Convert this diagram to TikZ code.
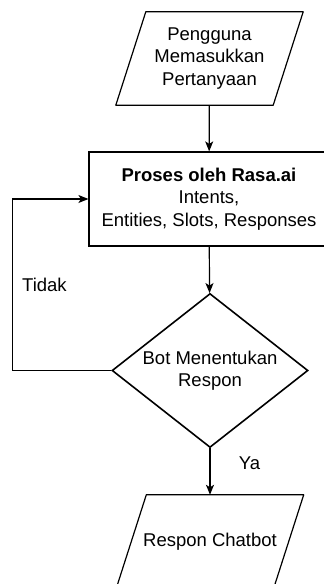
\documentclass[tikz,border=0pt]{standalone}
\usepackage{fontspec}
\setmainfont{Liberation Sans}
\usetikzlibrary{shapes.geometric,arrows.meta}
\begin{document}
\begin{tikzpicture}[x=1pt,y=-1pt,
  font=\fontsize{18.5}{22.5}\selectfont,
  every node/.style={align=center},
  io/.style={rectangle,minimum width=187pt,minimum height=93pt,inner sep=0pt},
  proc/.style={draw,line width=1.2pt,rectangle,minimum width=240pt,minimum height=94pt,inner sep=0pt},
  decide/.style={draw,line width=1.6pt,diamond,aspect=1.27,minimum width=196pt,minimum height=154pt,inner sep=0pt},
  flow/.style={line width=1.2pt,-{Stealth[length=10pt,width=8pt,inset=2.5pt]}}]
\clip (0,0) rectangle (324,584);
% nodes
\node[io] (input) at (209.5,58.5) {Pengguna\\Memasukkan\\Pertanyaan};
\node[proc] (proses) at (209,199) {\textbf{Proses oleh Rasa.ai}\\Intents,\\Entities, Slots, Responses};
\node[decide] (bot) at (210,370.5) {Bot Menentukan\\Respon};
\node[io] (respon) at (210,541.5) {Respon Chatbot};
% parallelogram outlines
\foreach \n in {input,respon}
  \draw[line width=1.2pt,line join=round] ([xshift=30pt]\n.north west) -- (\n.north east)
    -- ([xshift=-30pt]\n.south east) -- (\n.south west) -- cycle;
% connectors
\draw[flow] (input) -- (proses);
\draw[flow] (proses) -- (bot);
\draw[flow] (bot.west) -- ++(-99,0) |- (proses.west)
  node[pos=0.25,right=6pt] (tidak) {Tidak};
\draw[flow] (bot) -- (respon)
  node[pos=0.33,right=25pt] (ya) {Ya};
\end{tikzpicture}
\end{document}
